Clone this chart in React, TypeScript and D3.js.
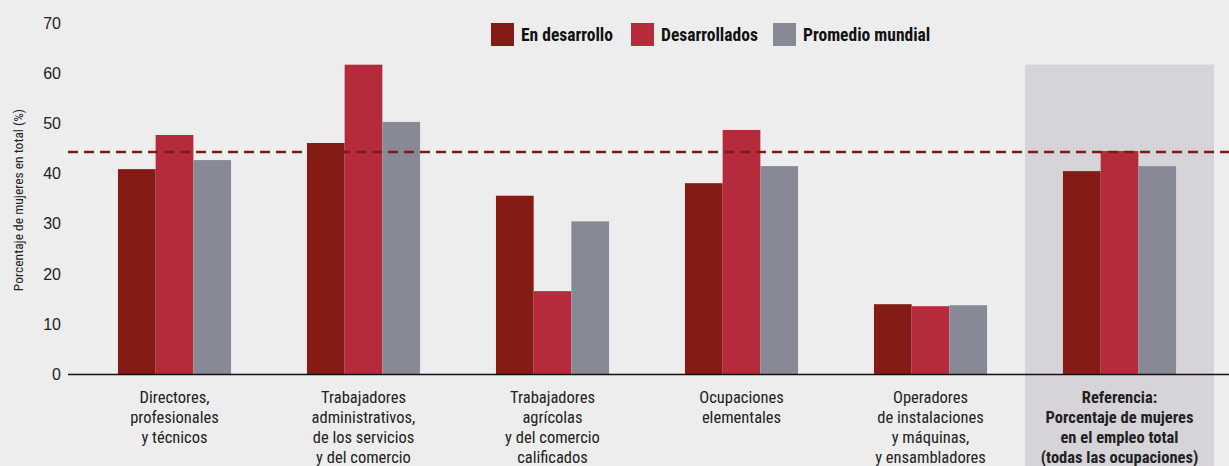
import React from "react";
import * as d3 from "d3";

const categories = [
  ["Directores,", "profesionales", "y técnicos"],
  ["Trabajadores", "administrativos,", "de los servicios", "y del comercio"],
  ["Trabajadores", "agrícolas", "y del comercio", "calificados"],
  ["Ocupaciones", "elementales"],
  ["Operadores", "de instalaciones", "y máquinas,", "y ensambladores"],
  ["Referencia:", "Porcentaje de mujeres", "en el empleo total", "(todas las ocupaciones)"],
];
const seriesNames = ["En desarrollo", "Desarrollados", "Promedio mundial"];
const enDesarrollo = [40.9, 46.1, 35.6, 38.1, 14.0, 40.5];
const desarrollados = [47.7, 61.7, 16.6, 48.7, 13.6, 44.5];
const promedioMundial = [42.7, 50.3, 30.5, 41.5, 13.8, 41.5];
const referenceLine = 44.3;
const yTicks = [0, 10, 20, 30, 40, 50, 60, 70];

const colors = ["#851b15", "#b52b3c", "#878a96"];
const W = 1229;
const H = 466;
const FONT = "'Liberation Sans Narrow', 'Roboto Condensed', 'DejaVu Sans Condensed', sans-serif";

export default function App() {
  const series = [enDesarrollo, desarrollados, promedioMundial];
  const y = d3.scaleLinear().domain([0, 70]).range([374.5, 23]);
  const x = d3.scaleBand<number>().domain(d3.range(categories.length)).range([80, 1214]).paddingInner(0);
  const bw = 37.7;
  const inner = d3.scaleBand<number>().domain([0, 1, 2]).range([-bw * 1.5, bw * 1.5]);
  const maxVal = d3.max(desarrollados) as number;
  const refIdx = categories.length - 1;
  const legendX = [491, 631, 773];
  return (
    <svg width={W} height={H} style={{ position: "fixed", left: 0, top: 0, background: "#ededed" }}>
      <rect x={0} y={0} width={W} height={H} fill="#ededed" />
      <rect x={x(refIdx)} y={y(maxVal)} width={x.bandwidth()} height={H - y(maxVal)} fill="#d6d4d8" />
      {yTicks.map((t) => (
        <text key={t} x={61} y={y(t)} dy="0.35em" textAnchor="end" fontFamily="'Liberation Sans', Arial, sans-serif" fontSize={16} fill="#222">
          {t}
        </text>
      ))}
      <text transform={`translate(23,200) rotate(-90)`} textAnchor="middle" fontFamily={FONT} fontSize={13.5} fill="#222">
        Porcentaje de mujeres en total (%)
      </text>
      {series.map((vals, si) =>
        vals.map((v, ci) => (
          <rect
            key={`${si}-${ci}`}
            x={(x(ci) as number) + x.bandwidth() / 2 + (inner(si) as number)}
            y={y(v)}
            width={inner.bandwidth()}
            height={y(0) - y(v)}
            fill={colors[si]}
          />
        ))
      )}
      <line x1={68} x2={W} y1={y(0)} y2={y(0)} stroke="#111" strokeWidth={1.5} />
      <line x1={68} x2={W} y1={y(referenceLine)} y2={y(referenceLine)} stroke="#7f1a16" strokeWidth={2.5} strokeDasharray="10,6" />
      {categories.map((lines, ci) => (
        <text
          key={ci}
          x={(x(ci) as number) + x.bandwidth() / 2}
          y={397}
          textAnchor="middle"
          fontFamily={FONT}
          fontSize={16.5}
          fontWeight={ci === refIdx ? "bold" : "normal"}
          fill="#222"
        >
          {lines.map((l, li) => (
            <tspan key={li} x={(x(ci) as number) + x.bandwidth() / 2} dy={li === 0 ? "0.35em" : 20}>
              {l}
            </tspan>
          ))}
        </text>
      ))}
      {seriesNames.map((n, i) => (
        <g key={n}>
          <rect x={legendX[i]} y={23} width={23} height={23} fill={colors[i]} />
          <text x={legendX[i] + 30} y={34.5} dy="0.35em" fontFamily={FONT} fontSize={17.5} fontWeight="bold" fill="#111">
            {n}
          </text>
        </g>
      ))}
    </svg>
  );
}
